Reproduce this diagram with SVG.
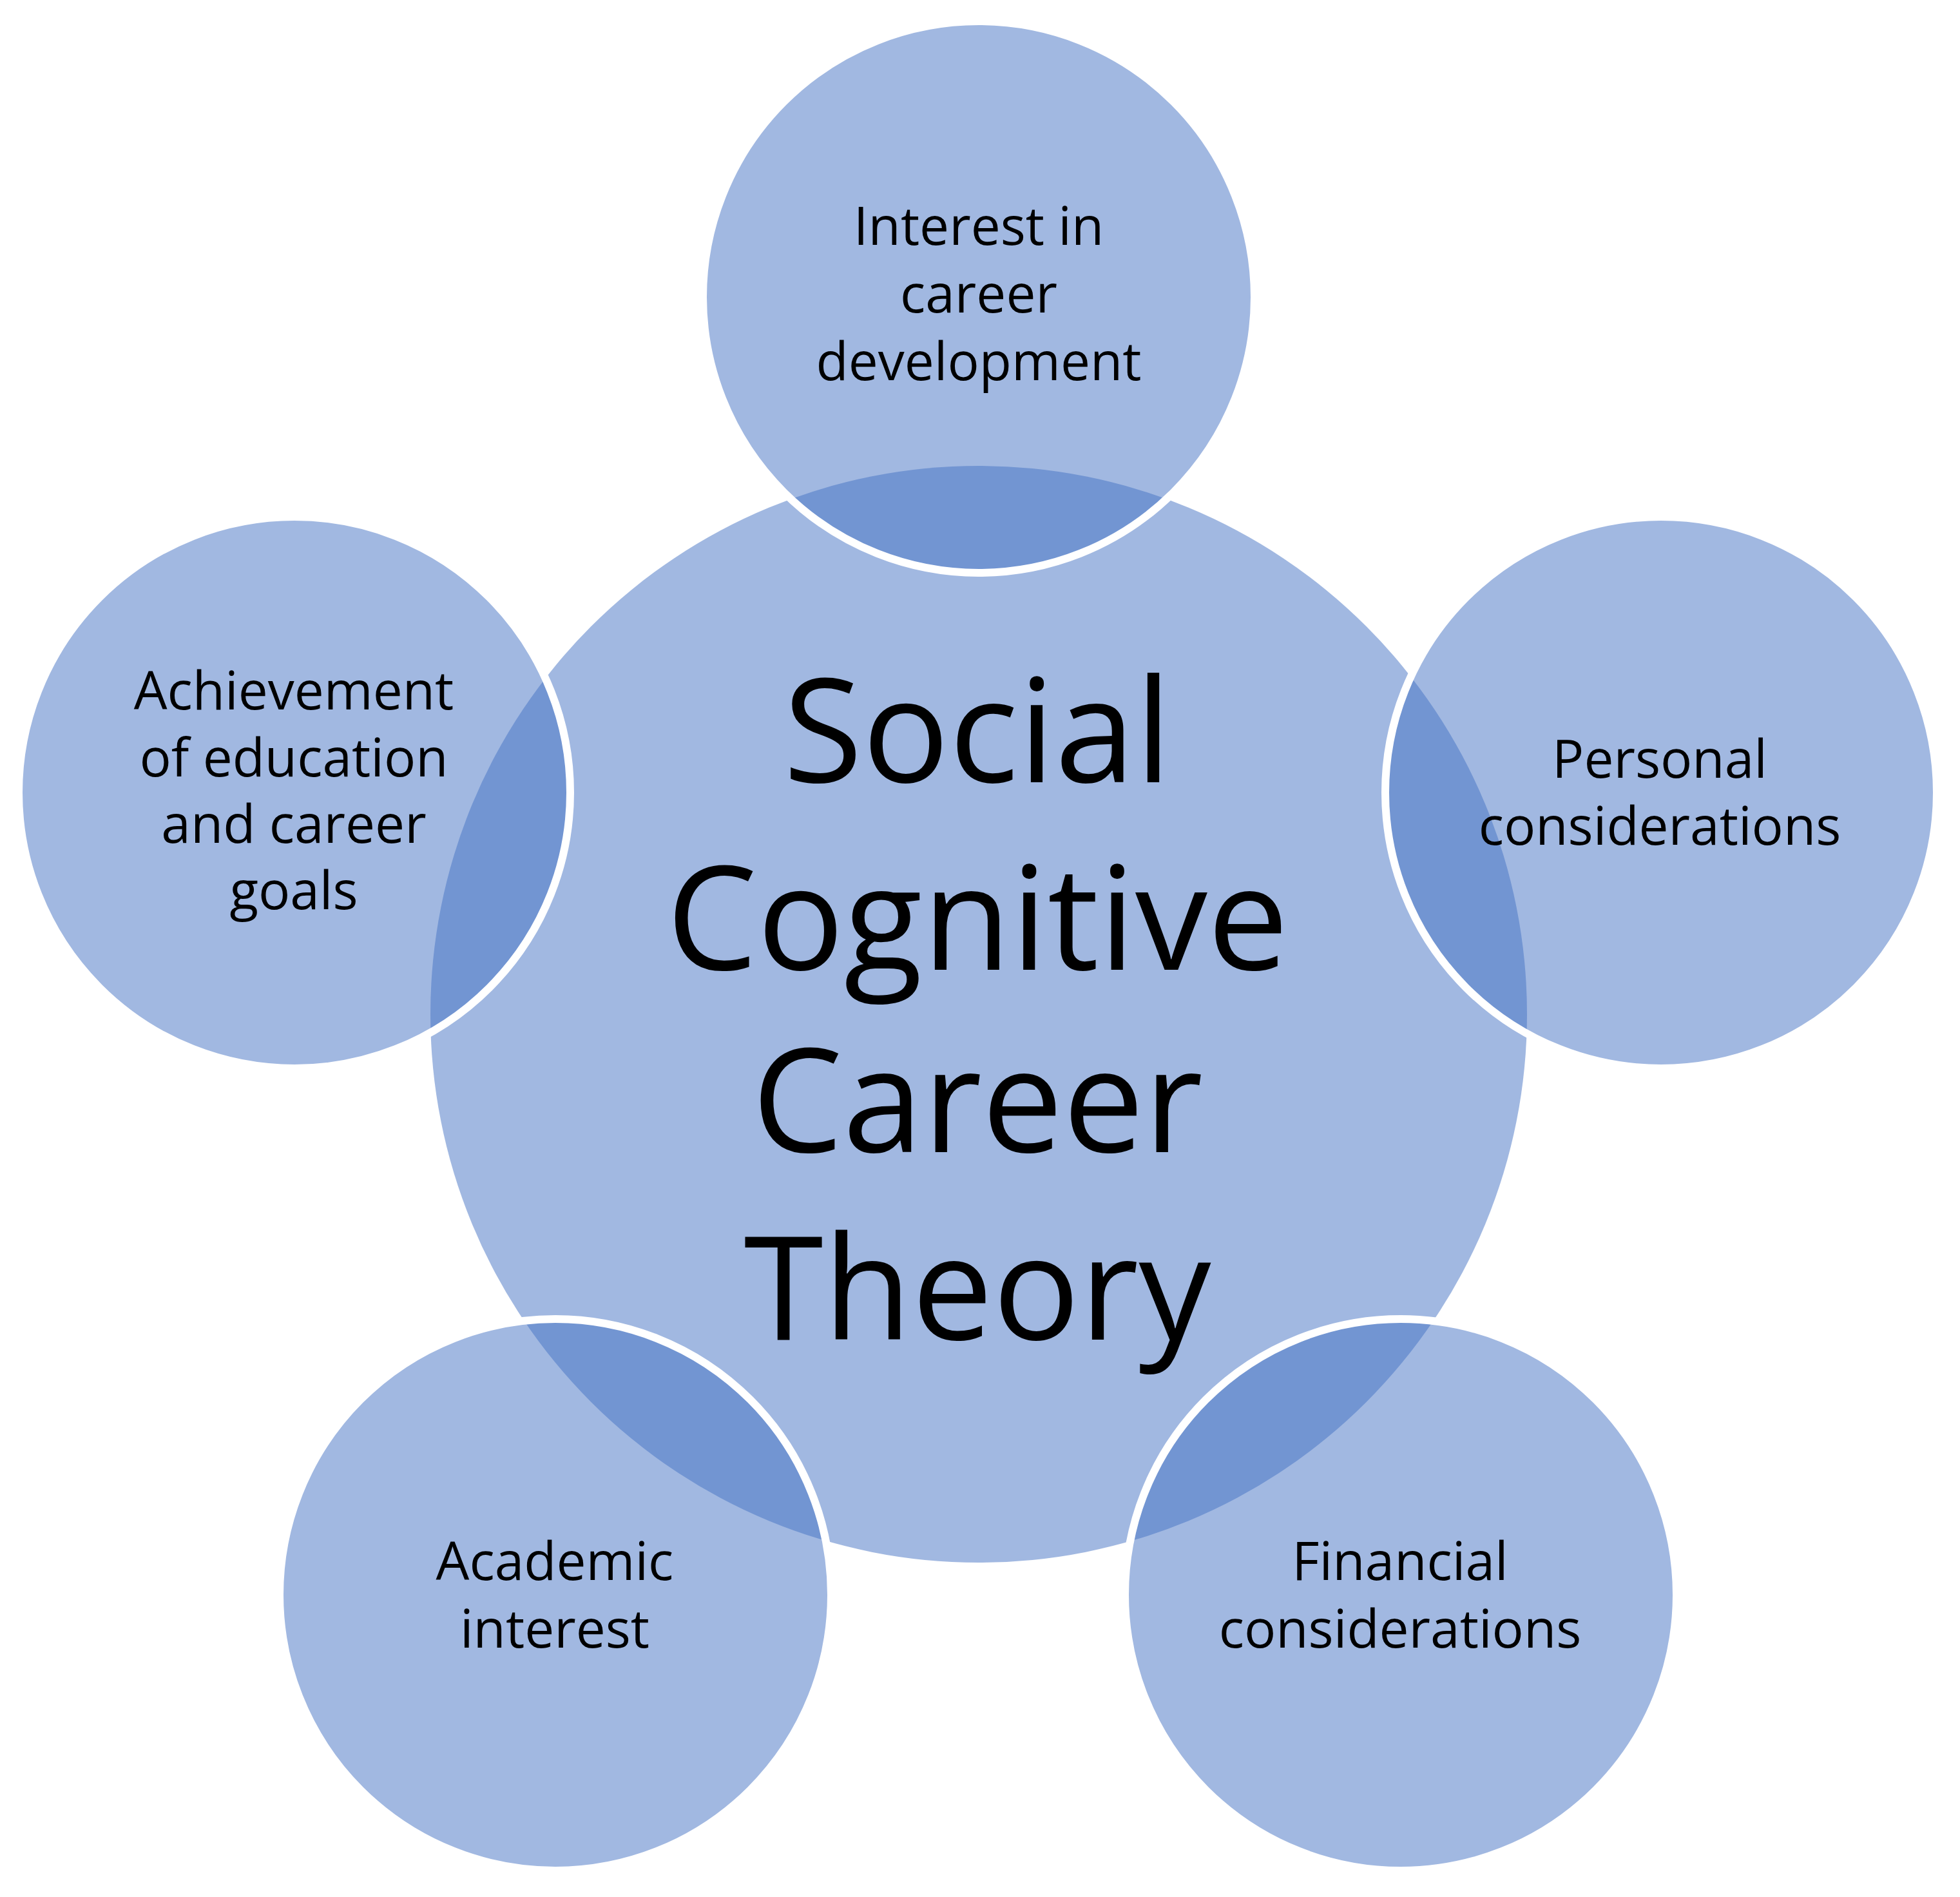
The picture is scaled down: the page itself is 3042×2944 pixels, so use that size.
<svg xmlns="http://www.w3.org/2000/svg" width="3042" height="2944" viewBox="0 0 3042 2944">
  <style>
    .hub { fill: #4472C4; fill-opacity: 0.5; }
    .sat { fill: #4472C4; fill-opacity: 0.5; stroke: #FFFFFF; stroke-width: 12; }
    .lbl { font-family: "Open Sans", "Liberation Sans", sans-serif; font-size: 82px; fill: #000000; text-anchor: middle; }
    .big { font-family: "Open Sans", "Liberation Sans", sans-serif; font-size: 224px; fill: #000000; text-anchor: middle; }
  </style>
  <rect width="3042" height="2944" fill="#FFFFFF"/>
  <g id="connectors"></g>
  <g id="hub">
    <circle class="hub" cx="1519" cy="1574" r="851"/>
    <text class="big" x="1517" y="1214">Social</text>
    <text class="big" x="1517" y="1505">Cognitive</text>
    <text class="big" x="1517" y="1788">Career</text>
    <text class="big" x="1517" y="2079">Theory</text>
  </g>
  <g id="node-interest-career">
    <circle class="sat" cx="1519" cy="461" r="428"/>
    <text class="lbl" x="1519" y="380">Interest in</text>
    <text class="lbl" x="1519" y="485">career</text>
    <text class="lbl" x="1519" y="590">development</text>
  </g>
  <g id="node-personal">
    <circle class="sat" cx="2578" cy="1230" r="428"/>
    <text class="lbl" x="2576" y="1207">Personal</text>
    <text class="lbl" x="2576" y="1311">considerations</text>
  </g>
  <g id="node-financial">
    <circle class="sat" cx="2174" cy="2475" r="428"/>
    <text class="lbl" x="2173" y="2452">Financial</text>
    <text class="lbl" x="2173" y="2557">considerations</text>
  </g>
  <g id="node-academic">
    <circle class="sat" cx="862" cy="2475" r="428"/>
    <text class="lbl" x="861" y="2452">Academic</text>
    <text class="lbl" x="861" y="2557">interest</text>
  </g>
  <g id="node-achievement">
    <circle class="sat" cx="457" cy="1230" r="428"/>
    <text class="lbl" x="456" y="1101">Achievement</text>
    <text class="lbl" x="456" y="1205">of education</text>
    <text class="lbl" x="456" y="1308">and career</text>
    <text class="lbl" x="456" y="1411">goals</text>
  </g>
</svg>
